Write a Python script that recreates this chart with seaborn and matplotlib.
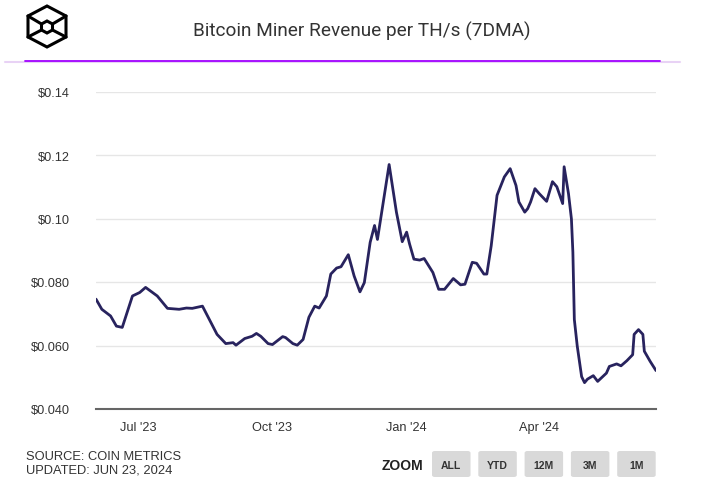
import numpy as np
import pandas as pd
import matplotlib
matplotlib.use("Agg")
import matplotlib.pyplot as plt
from matplotlib.patches import FancyBboxPatch, Polygon
from matplotlib.lines import Line2D
from matplotlib import font_manager
import seaborn as sns

# data
dates = [
    "2023-06-02", "2023-06-06", "2023-06-12", "2023-06-16", "2023-06-20", "2023-06-27",
    "2023-07-02", "2023-07-06", "2023-07-14", "2023-07-21", "2023-07-29", "2023-08-03",
    "2023-08-07", "2023-08-14", "2023-08-24", "2023-08-30", "2023-09-04", "2023-09-06",
    "2023-09-12", "2023-09-17", "2023-09-20", "2023-09-23", "2023-09-28", "2023-10-01",
    "2023-10-08", "2023-10-10", "2023-10-15", "2023-10-18", "2023-10-22", "2023-10-26",
    "2023-10-30", "2023-11-02", "2023-11-07", "2023-11-10", "2023-11-14", "2023-11-17",
    "2023-11-22", "2023-11-26", "2023-11-30", "2023-12-03", "2023-12-07", "2023-12-10",
    "2023-12-12", "2023-12-16", "2023-12-20", "2023-12-25", "2023-12-29", "2024-01-01",
    "2024-01-03", "2024-01-06", "2024-01-10", "2024-01-13", "2024-01-19", "2024-01-23",
    "2024-01-27", "2024-02-02", "2024-02-07", "2024-02-10", "2024-02-15", "2024-02-18",
    "2024-02-23", "2024-02-25", "2024-02-28", "2024-03-03", "2024-03-08", "2024-03-12",
    "2024-03-16", "2024-03-18", "2024-03-22", "2024-03-24", "2024-03-26", "2024-03-29",
    "2024-04-01", "2024-04-06", "2024-04-10", "2024-04-13", "2024-04-17", "2024-04-18",
    "2024-04-21", "2024-04-23", "2024-04-24", "2024-04-25", "2024-04-27", "2024-04-30",
    "2024-05-02", "2024-05-04", "2024-05-08", "2024-05-11", "2024-05-17", "2024-05-19",
    "2024-05-24", "2024-05-27", "2024-05-31", "2024-06-04", "2024-06-05", "2024-06-08",
    "2024-06-11", "2024-06-12", "2024-06-16", "2024-06-20",
]
revenue = [
    0.0746, 0.0714, 0.0693, 0.0661, 0.0657, 0.0756,
    0.0767, 0.0783, 0.0756, 0.0717, 0.0714, 0.0718,
    0.0717, 0.0724, 0.0635, 0.0606, 0.0609, 0.0601,
    0.0622, 0.0629, 0.0638, 0.0629, 0.0606, 0.0603,
    0.0628, 0.0625, 0.0606, 0.0601, 0.0619, 0.0689,
    0.0724, 0.0718, 0.0756, 0.0825, 0.0844, 0.0848,
    0.0886, 0.0819, 0.0769, 0.0798, 0.0925, 0.0978,
    0.0934, 0.1052, 0.1170, 0.1020, 0.0927, 0.0957,
    0.0920, 0.0872, 0.0869, 0.0874, 0.0830, 0.0777,
    0.0777, 0.0811, 0.0791, 0.0793, 0.0862, 0.0859,
    0.0825, 0.0825, 0.0914, 0.1073, 0.1131, 0.1157,
    0.1104, 0.1052, 0.1020, 0.1031, 0.1052, 0.1094,
    0.1078, 0.1054, 0.1116, 0.1100, 0.1047, 0.1163,
    0.1078, 0.0999, 0.0894, 0.0682, 0.0598, 0.0502,
    0.0483, 0.0494, 0.0505, 0.0487, 0.0513, 0.0534,
    0.0542, 0.0536, 0.0552, 0.0571, 0.0635, 0.0650,
    0.0635, 0.0582, 0.0550, 0.0521,
]
y_ticks = [0.04, 0.06, 0.08, 0.10, 0.12, 0.14]
y_tick_labels = ["$0.040", "$0.060", "$0.080", "$0.10", "$0.12", "$0.14"]
x_ticks = ["2023-07-01", "2023-10-01", "2024-01-01", "2024-04-01"]
x_tick_labels = ["Jul '23", "Oct '23", "Jan '24", "Apr '24"]
zoom_buttons = ["ALL", "YTD", "12M", "3M", "1M"]

W, H = 701, 485
LINE_COLOR = "#28235e"
TEXT_COLOR = "#333333"

sns.set_theme(style="white")
installed = {f.name for f in font_manager.fontManager.ttflist}
narrow = "Liberation Sans Narrow" if "Liberation Sans Narrow" in installed else "Liberation Sans"
title_font = "Roboto" if "Roboto" in installed else "DejaVu Sans"
plt.rcParams["font.family"] = [narrow, "DejaVu Sans"]


def px(x, y):
    return x / W, 1 - y / H


df = pd.DataFrame({"date": pd.to_datetime(dates), "revenue": revenue})

fig = plt.figure(figsize=(W / 100, H / 100), dpi=100)
fig.patch.set_facecolor("white")
ax = fig.add_axes([96 / W, 1 - 410 / H, 560 / W, (410 - 92.5) / H])

sns.lineplot(data=df, x="date", y="revenue", ax=ax, color=LINE_COLOR, linewidth=2.0)

ax.set_xlim(df["date"].min(), df["date"].max())
ax.set_ylim(0.04, 0.14)
ax.set_yticks(y_ticks)
ax.set_yticklabels(y_tick_labels)
ax.set_xticks(pd.to_datetime(x_ticks))
ax.set_xticklabels(x_tick_labels)
ax.tick_params(axis="both", length=0, labelsize=9.2, colors=TEXT_COLOR)
ax.tick_params(axis="y", pad=19)
ax.tick_params(axis="x", pad=9)
ax.set_xlabel("")
ax.set_ylabel("")
ax.grid(axis="y", color="#e6e6e6", linewidth=1)
ax.set_axisbelow(True)
for s in ["top", "right", "left"]:
    ax.spines[s].set_visible(False)
ax.spines["bottom"].set_color("#666666")
ax.spines["bottom"].set_linewidth(1.5)

# title and header rules
fig.text(*px(362, 31), "Bitcoin Miner Revenue per TH/s (7DMA)", ha="center", va="center",
         fontsize=13.7, color=TEXT_COLOR, family=title_font)
fig.add_artist(Line2D([px(5, 0)[0], px(680, 0)[0]], [px(0, 63)[1]] * 2, color="#e8d2f5", linewidth=1.5))
fig.add_artist(Line2D([px(25, 0)[0], px(660, 0)[0]], [px(0, 62)[1]] * 2, color="#a000ff", linewidth=1.3))

# logo: cube outline
outer = [(47, 7), (66, 17), (66, 38), (47, 48), (28, 38), (28, 17)]
inner = [(47, 22), (52.5, 25), (52.5, 31), (47, 34), (41.5, 31), (41.5, 25)]
fig.add_artist(Polygon([px(*p) for p in outer], closed=True, fill=False, edgecolor="black",
                       linewidth=2.2, transform=fig.transFigure))
fig.add_artist(Polygon([px(*p) for p in inner], closed=True, fill=False, edgecolor="black",
                       linewidth=2.2, transform=fig.transFigure))
for o, i in [(1, 1), (2, 2), (4, 4), (5, 5)]:
    (x0, y0), (x1, y1) = px(*outer[o]), px(*inner[i])
    fig.add_artist(Line2D([x0, x1], [y0, y1], color="black", linewidth=2.2))

# footer
fig.text(*px(26, 457), "SOURCE: COIN METRICS", ha="left", va="center", fontsize=9.3, color=TEXT_COLOR)
fig.text(*px(26, 471), "UPDATED: JUN 23, 2024", ha="left", va="center", fontsize=9.3, color=TEXT_COLOR)
fig.text(*px(402, 466), "ZOOM", ha="center", va="center", fontsize=10, fontweight="bold",
         color="#222222", family="Liberation Sans")
for k, label in enumerate(zoom_buttons):
    x0 = 432 + k * 46.3
    x_left, y_bot = px(x0, 478)
    box = FancyBboxPatch((x_left, y_bot), 38.5 / W, 26 / H, boxstyle="round,pad=0,rounding_size=0.004",
                         transform=fig.transFigure, facecolor="#d9d9d9", edgecolor="none")
    fig.add_artist(box)
    fig.text(*px(x0 + 19.25, 466), label, ha="center", va="center", fontsize=7.5,
             fontweight="bold", color=TEXT_COLOR, family="Liberation Sans")

fig.savefig("out.png", dpi=100, facecolor="white")
